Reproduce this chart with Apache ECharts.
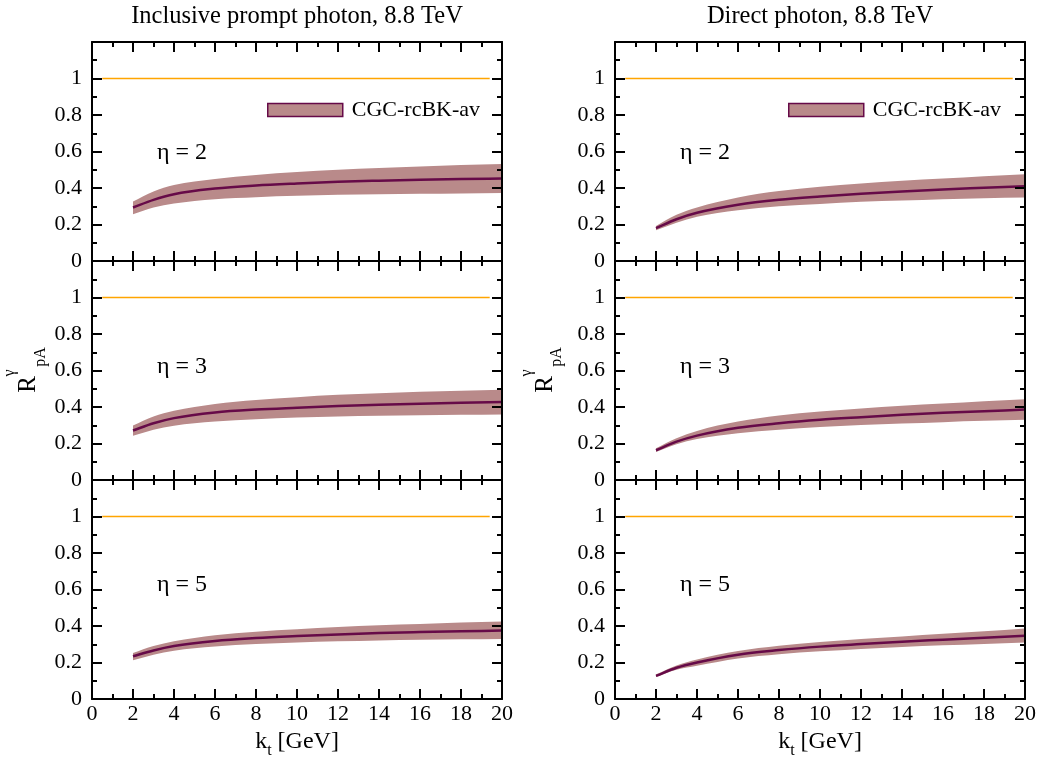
<!DOCTYPE html>
<html>
<head>
<meta charset="utf-8">
<script src="https://cdn.jsdelivr.net/npm/echarts@6/dist/echarts.min.js"></script>
<style>
  html, body { margin: 0; padding: 0; background: #ffffff; }
  #chart { width: 1038px; height: 760px; }
</style>
</head>
<body>
<div id="chart"></div>
<script>
// Transverse momentum grid (GeV)
const kt = [2, 3, 4, 6, 8, 10, 12, 14, 16, 18, 20];

// Inclusive prompt photon, R_pA: central value and band edges
const incEta2Mid = [0.293, 0.335, 0.366, 0.397, 0.414, 0.425, 0.434, 0.440, 0.445, 0.449, 0.452];
const incEta2Hi  = [0.326, 0.381, 0.416, 0.449, 0.471, 0.487, 0.500, 0.509, 0.518, 0.526, 0.531];
const incEta2Lo  = [0.256, 0.293, 0.315, 0.339, 0.350, 0.357, 0.363, 0.366, 0.368, 0.370, 0.372];

const incEta3Mid = [0.271, 0.311, 0.339, 0.370, 0.386, 0.396, 0.405, 0.412, 0.418, 0.423, 0.427];
const incEta3Hi  = [0.298, 0.348, 0.379, 0.416, 0.438, 0.454, 0.467, 0.476, 0.484, 0.489, 0.495];
const incEta3Lo  = [0.242, 0.275, 0.297, 0.320, 0.333, 0.342, 0.348, 0.352, 0.355, 0.357, 0.359];

const incEta5Mid = [0.234, 0.266, 0.290, 0.318, 0.334, 0.345, 0.354, 0.362, 0.367, 0.371, 0.375];
const incEta5Hi  = [0.252, 0.290, 0.316, 0.349, 0.369, 0.382, 0.394, 0.404, 0.411, 0.419, 0.424];
const incEta5Lo  = [0.212, 0.243, 0.265, 0.288, 0.301, 0.310, 0.316, 0.321, 0.325, 0.327, 0.329];

// Direct photon, R_pA: central value and band edges
const dirEta2Mid = [0.180, 0.229, 0.264, 0.308, 0.335, 0.353, 0.368, 0.381, 0.392, 0.401, 0.410];
const dirEta2Hi  = [0.192, 0.253, 0.293, 0.348, 0.383, 0.407, 0.425, 0.440, 0.452, 0.465, 0.476];
const dirEta2Lo  = [0.168, 0.210, 0.242, 0.278, 0.300, 0.313, 0.324, 0.331, 0.339, 0.344, 0.348];

const dirEta3Mid = [0.163, 0.210, 0.243, 0.286, 0.311, 0.330, 0.344, 0.357, 0.368, 0.377, 0.386];
const dirEta3Hi  = [0.174, 0.229, 0.269, 0.320, 0.353, 0.375, 0.392, 0.407, 0.419, 0.432, 0.443];
const dirEta3Lo  = [0.154, 0.196, 0.224, 0.256, 0.276, 0.290, 0.301, 0.309, 0.317, 0.324, 0.330];

const dirEta5Mid = [0.127, 0.171, 0.200, 0.243, 0.268, 0.287, 0.301, 0.314, 0.325, 0.336, 0.347];
const dirEta5Hi  = [0.135, 0.184, 0.217, 0.263, 0.292, 0.312, 0.329, 0.343, 0.358, 0.371, 0.386];
const dirEta5Lo  = [0.120, 0.160, 0.182, 0.222, 0.245, 0.261, 0.274, 0.285, 0.294, 0.301, 0.309];

// Reference line R = 1
const refLevel = 1;
const refFrom = 0.5;
const refTo = 19.4;

const columnTitles = ['Inclusive prompt photon, 8.8 TeV', 'Direct photon, 8.8 TeV'];
const etaLabels = ['\u03b7 = 2', '\u03b7 = 3', '\u03b7 = 5'];
const legendName = 'CGC-rcBK-av';

const xTickStep = 2;
const yTickStep = 0.2;

// ---- styling / layout ----
const FONT = '"Liberation Serif", "Times New Roman", serif';
const BAND_COLOR = '#b98a8a';
const LINE_COLOR = '#660a48';
const REF_COLOR = '#ffa500';

const colLeft = [92, 615];
const plotW = 410;
const rowTop = [42, 261, 480];
const plotH = 219;

const panels = [
  { col: 0, row: 0, mid: incEta2Mid, lo: incEta2Lo, hi: incEta2Hi },
  { col: 0, row: 1, mid: incEta3Mid, lo: incEta3Lo, hi: incEta3Hi },
  { col: 0, row: 2, mid: incEta5Mid, lo: incEta5Lo, hi: incEta5Hi },
  { col: 1, row: 0, mid: dirEta2Mid, lo: dirEta2Lo, hi: dirEta2Hi },
  { col: 1, row: 1, mid: dirEta3Mid, lo: dirEta3Lo, hi: dirEta3Hi },
  { col: 1, row: 2, mid: dirEta5Mid, lo: dirEta5Lo, hi: dirEta5Hi }
];

// Monotone cubic Hermite curve through pixel points, as SVG path commands
function curvePath(pts, startCmd) {
  const n = pts.length;
  const d = [];
  for (let i = 0; i < n - 1; i++) {
    d.push((pts[i + 1][1] - pts[i][1]) / (pts[i + 1][0] - pts[i][0]));
  }
  const m = new Array(n);
  m[0] = d[0];
  m[n - 1] = d[n - 2];
  for (let i = 1; i < n - 1; i++) {
    m[i] = (d[i - 1] * d[i] <= 0) ? 0 : (d[i - 1] + d[i]) / 2;
  }
  for (let i = 0; i < n - 1; i++) {
    if (d[i] === 0) { m[i] = 0; m[i + 1] = 0; continue; }
    const a = m[i] / d[i], b = m[i + 1] / d[i];
    const s = a * a + b * b;
    if (s > 9) {
      const t = 3 / Math.sqrt(s);
      m[i] = t * a * d[i];
      m[i + 1] = t * b * d[i];
    }
  }
  let path = startCmd + pts[0][0] + ' ' + pts[0][1];
  for (let i = 0; i < n - 1; i++) {
    const h = (pts[i + 1][0] - pts[i][0]) / 3;
    path += ' C' + (pts[i][0] + h) + ' ' + (pts[i][1] + m[i] * h) + ' ' +
      (pts[i + 1][0] - h) + ' ' + (pts[i + 1][1] - m[i + 1] * h) + ' ' +
      pts[i + 1][0] + ' ' + pts[i + 1][1];
  }
  return path;
}

// Draws the uncertainty band and the central curve of one panel
function bandRenderer(params, api) {
  if (params.dataIndexInside !== 0) return;
  const n = params.dataInsideLength;
  const lo = [], mid = [], hi = [];
  for (let i = 0; i < n; i++) {
    const k = api.value(0, i);
    lo.push(api.coord([k, api.value(1, i)]));
    mid.push(api.coord([k, api.value(2, i)]));
    hi.push(api.coord([k, api.value(3, i)]));
  }
  const bandPath = curvePath(hi, 'M') + ' ' + curvePath(lo.slice().reverse(), 'L') + ' Z';
  const linePath = curvePath(mid, 'M');
  return {
    type: 'group',
    children: [
      { type: 'path', shape: { pathData: bandPath }, style: { fill: BAND_COLOR, stroke: 'none' } },
      { type: 'path', shape: { pathData: linePath },
        style: { fill: 'none', stroke: LINE_COLOR, lineWidth: 2.5, lineJoin: 'round' } }
    ]
  };
}

function xAxisCfg(g, pos, withLabels) {
  return {
    type: 'value', gridIndex: g, position: pos,
    min: 0, max: 20, interval: xTickStep, z: 5,
    axisLine: { show: true, onZero: false, lineStyle: { color: '#000', width: 2 } },
    axisTick: { show: true, inside: true, length: 10, lineStyle: { color: '#000', width: 2 } },
    minorTick: { show: true, splitNumber: 2, length: 5, lineStyle: { color: '#000', width: 2 } },
    splitLine: { show: false }, minorSplitLine: { show: false },
    axisLabel: {
      show: withLabels, color: '#000', fontSize: 22, fontFamily: FONT, margin: 4,
      showMinLabel: true, showMaxLabel: true
    }
  };
}

function yAxisCfg(g, pos, withLabels) {
  return {
    type: 'value', gridIndex: g, position: pos,
    min: 0, max: 1.2, interval: yTickStep, z: 5,
    axisLine: { show: true, onZero: false, lineStyle: { color: '#000', width: 2 } },
    axisTick: { show: true, inside: true, length: 10, lineStyle: { color: '#000', width: 2 } },
    minorTick: { show: true, splitNumber: 2, length: 5, lineStyle: { color: '#000', width: 2 } },
    splitLine: { show: false }, minorSplitLine: { show: false },
    axisLabel: {
      show: withLabels, color: '#000', fontSize: 22, fontFamily: FONT, margin: 10,
      showMinLabel: true, showMaxLabel: false,
      formatter: function (v) { return v > 1.1 ? '' : String(+v.toFixed(1)); }
    }
  };
}

const grids = [], xAxes = [], yAxes = [], series = [];
panels.forEach(function (p, g) {
  grids.push({
    left: colLeft[p.col], top: rowTop[p.row], width: plotW, height: plotH,
    containLabel: false, outerBoundsMode: 'none', show: false
  });
  xAxes.push(xAxisCfg(g, 'bottom', p.row === 2));
  xAxes.push(xAxisCfg(g, 'top', false));
  yAxes.push(yAxisCfg(g, 'left', true));
  yAxes.push(yAxisCfg(g, 'right', false));

  series.push({
    type: 'custom', name: legendName,
    xAxisIndex: 2 * g, yAxisIndex: 2 * g,
    data: kt.map(function (k, i) { return [k, p.lo[i], p.mid[i], p.hi[i]]; }),
    encode: { x: 0, y: [1, 2, 3] },
    itemStyle: { color: BAND_COLOR },
    renderItem: bandRenderer,
    silent: true, z: 2
  });
  series.push({
    type: 'line', name: 'ref' + g,
    xAxisIndex: 2 * g, yAxisIndex: 2 * g,
    data: [[refFrom, refLevel], [refTo, refLevel]],
    symbol: 'none', silent: true, z: 3,
    lineStyle: { color: REF_COLOR, width: 1.6 }
  });
});

function legendCfg(left) {
  return {
    left: left, top: 99, padding: 0,
    data: [legendName], selectedMode: false,
    icon: 'rect', itemWidth: 75, itemHeight: 13,
    itemStyle: { color: BAND_COLOR, borderColor: LINE_COLOR, borderWidth: 1.5 },
    textStyle: { color: '#000', fontSize: 22, fontFamily: FONT, padding: [0, 0, 0, 4] }
  };
}

function textEl(x, y, text, size, align) {
  return {
    type: 'text', x: x, y: y, silent: true,
    style: {
      text: text, fill: '#000', font: size + 'px ' + FONT,
      align: align || 'left', verticalAlign: 'middle'
    }
  };
}

// Rotated axis title R^gamma_pA
function rTitle(cx, cy) {
  return {
    type: 'group', x: cx, y: cy, rotation: Math.PI / 2, silent: true,
    children: [
      textEl(0, 0, 'R', 25, 'center'),
      textEl(11.5, -18.5, '\u03b3', 16, 'center'),
      textEl(27.5, 12, 'pA', 16, 'center')
    ]
  };
}

// k_t [GeV] axis title
function ktTitle(cx, cy) {
  return {
    type: 'text', x: cx, y: cy, silent: true,
    style: {
      text: '{k|k}{t|t}{g| [GeV]}',
      align: 'center', verticalAlign: 'middle', fill: '#000',
      rich: {
        k: { fontSize: 24, fontFamily: FONT, lineHeight: 34, verticalAlign: 'middle', fill: '#000' },
        t: { fontSize: 16, fontFamily: FONT, lineHeight: 16, verticalAlign: 'bottom', fill: '#000' },
        g: { fontSize: 24, fontFamily: FONT, lineHeight: 34, verticalAlign: 'middle', fill: '#000' }
      }
    }
  };
}

const etaY = [153, 367, 585];
const graphics = [];
columnTitles.forEach(function (t, c) {
  graphics.push(textEl(colLeft[c] + plotW / 2, 17, t, 24.5, 'center'));
  etaLabels.forEach(function (lab, r) {
    graphics.push(textEl(colLeft[c] + 65, etaY[r], lab, 24, 'left'));
  });
  graphics.push(ktTitle(colLeft[c] + plotW / 2, 742));
});
graphics.push(rTitle(28.5, 384.5));
graphics.push(rTitle(545, 384.5));

const chart = echarts.init(document.getElementById('chart'), null, { renderer: 'canvas' });
chart.setOption({
  animation: false,
  backgroundColor: '#ffffff',
  textStyle: { fontFamily: FONT },
  grid: grids,
  xAxis: xAxes,
  yAxis: yAxes,
  legend: [legendCfg(267), legendCfg(788)],
  graphic: graphics,
  series: series
});
</script>
</body>
</html>
